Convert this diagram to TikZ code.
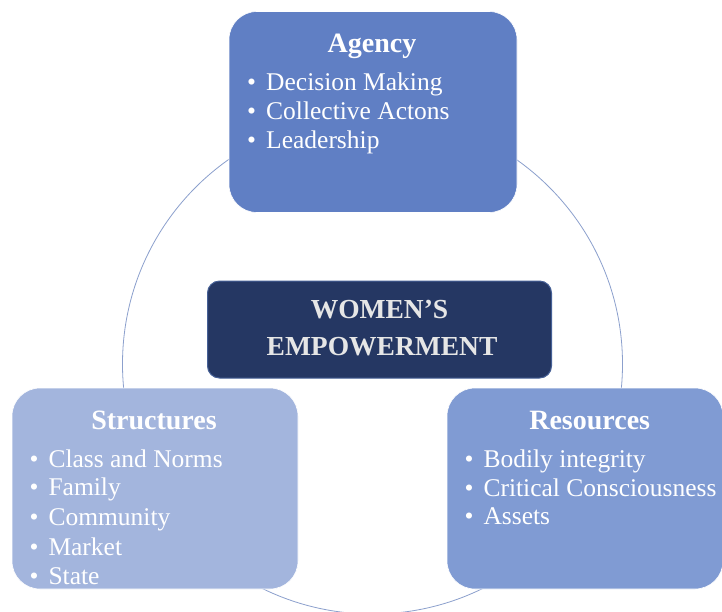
\documentclass[tikz,border=0pt]{standalone}
\usepackage{fontspec}
\setmainfont{Liberation Serif}
\definecolor{agencyfill}{RGB}{96,127,196}
\definecolor{resfill}{RGB}{128,155,211}
\definecolor{structfill}{RGB}{163,181,221}
\definecolor{corefill}{RGB}{37,55,99}
\definecolor{coreedge}{RGB}{70,96,150}
\definecolor{ringline}{RGB}{140,160,205}
\definecolor{coretext}{RGB}{230,230,230}
\tikzset{
  panel/.style={rounded corners=28pt, inner sep=0pt, draw=white, line width=0.6pt},
  core/.style={rounded corners=12pt, inner sep=0pt, fill=corefill, draw=coreedge, line width=1pt},
  ptitle/.style={anchor=base, text=white, inner sep=0pt, font=\fontsize{28}{30}\selectfont\bfseries},
  pitem/.style={anchor=base west, text=white, inner sep=0pt, font=\fontsize{25.5}{29}\selectfont},
  pbullet/.style={anchor=base, text=white, inner sep=0pt, font=\fontsize{25.5}{29}\selectfont},
  coretitle/.style={anchor=base, text=coretext, inner sep=0pt, font=\fontsize{27.5}{35}\selectfont\bfseries},
  ring/.style={draw=ringline, line width=0.8pt}
}
\begin{document}
\begin{tikzpicture}[x=1pt,y=-1pt]
\useasboundingbox (0,0) rectangle (722,611);
\fill[white] (0,0) rectangle (722,611);
\clip (0,0) rectangle (722,611);

% ring linking the three dimensions
\coordinate (hub) at (372.5,364);
\draw[ring] (hub) circle[radius=250pt];

% three dimension panels
\node[panel, fill=agencyfill, minimum width=288pt, minimum height=201pt] (agency) at (373,112) {};
\node[panel, fill=structfill, minimum width=286pt, minimum height=201pt] (structures) at (155,488.5) {};
\node[panel, fill=resfill, minimum width=276pt, minimum height=201pt] (resources) at (585,488.5) {};

% central concept
\node[core, minimum width=344pt, minimum height=97pt] (core) at (379.5,329.5) {};
\node[coretitle] (coreA) at (379.5,318.5) {WOMEN’S};
\node[coretitle] (coreB) at (382,355) {EMPOWERMENT};

% Agency
\node[ptitle] (agT) at (372,52.7) {Agency};
\foreach \t [count=\i] in {Decision Making, Collective Actons, Leadership}{
  \node[pbullet] (agB\i) at (251.7,{90+29.3*(\i-1)}) {\textbullet};
  \node[pitem] (ag\i) at (266,{90+29.3*(\i-1)}) {\t};
}

% Structures
\node[ptitle] (stT) at (154,429.3) {Structures};
\foreach \t/\yy [count=\i] in {Class and Norms/467.3, Family/495.7, Community/525, Market/555, State/584}{
  \node[pbullet] (stB\i) at (34,\yy) {\textbullet};
  \node[pitem] (st\i) at (48.3,\yy) {\t};
}

% Resources
\node[ptitle] (reT) at (589.7,429.3) {Resources};
\foreach \t/\yy [count=\i] in {Bodily integrity/467.3, Critical Consciousness/496, Assets/524.3}{
  \node[pbullet] (reB\i) at (469,\yy) {\textbullet};
  \node[pitem] (re\i) at (483.3,\yy) {\t};
}
\end{tikzpicture}
\end{document}
